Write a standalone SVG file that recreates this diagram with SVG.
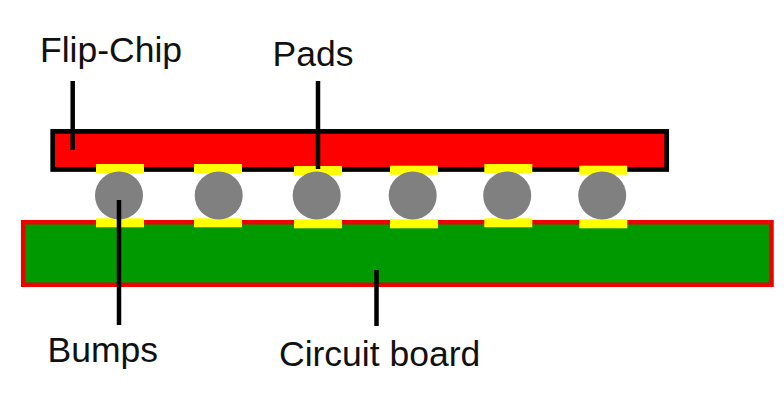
<svg xmlns="http://www.w3.org/2000/svg" width="784" height="401" viewBox="0 0 784 401">
<style>
.label{font-family:"Liberation Sans",Arial,sans-serif;font-size:35.5px;fill:#111}
.pad{fill:#ffff00}
.bump{fill:#808080}
.lead{stroke:#000;stroke-width:4.5;fill:none}
</style>
<rect width="784" height="401" fill="#fff"/>
<g id="circuit-board"><rect x="23.2" y="222.2" width="748.3" height="62.6" fill="#009900" stroke="#ee0000" stroke-width="4.5"/></g>
<g id="flip-chip"><rect x="52.7" y="131.4" width="614" height="38.1" fill="#ff0000" stroke="#000" stroke-width="4.7"/></g>
<g id="pads">
<rect class="pad" x="96" y="164" width="48" height="9"/>
<rect class="pad" x="194" y="164" width="48" height="9"/>
<rect class="pad" x="294" y="166" width="48" height="9"/>
<rect class="pad" x="390" y="165.7" width="48" height="9"/>
<rect class="pad" x="484.3" y="164" width="48" height="9"/>
<rect class="pad" x="579.3" y="165.7" width="48" height="9"/>
<rect class="pad" x="96" y="218.3" width="48" height="9"/>
<rect class="pad" x="194" y="218.3" width="48" height="9"/>
<rect class="pad" x="294" y="219.3" width="48" height="9"/>
<rect class="pad" x="390" y="219.3" width="48" height="9"/>
<rect class="pad" x="484.3" y="218.3" width="48" height="9"/>
<rect class="pad" x="579.3" y="219.3" width="48" height="9"/>
</g>
<g id="bumps">
<circle class="bump" cx="119" cy="195.5" r="24"/>
<circle class="bump" cx="218.7" cy="195.5" r="24"/>
<circle class="bump" cx="316.7" cy="195.5" r="24"/>
<circle class="bump" cx="412.7" cy="195.5" r="24"/>
<circle class="bump" cx="507.2" cy="195.5" r="24"/>
<circle class="bump" cx="602.2" cy="195.5" r="24"/>
</g>
<g id="connectors">
<line class="lead" x1="72.7" y1="81" x2="72.7" y2="150"/>
<line class="lead" x1="318" y1="81" x2="318" y2="169"/>
<line class="lead" x1="119" y1="200" x2="119" y2="325"/>
<line class="lead" x1="376.5" y1="270" x2="376.5" y2="326"/>
</g>
<g id="labels">
<text class="label" x="40" y="62">Flip-Chip</text>
<text class="label" x="272.5" y="66">Pads</text>
<text class="label" x="47.5" y="362">Bumps</text>
<text class="label" x="279" y="366">Circuit board</text>
</g>
</svg>
